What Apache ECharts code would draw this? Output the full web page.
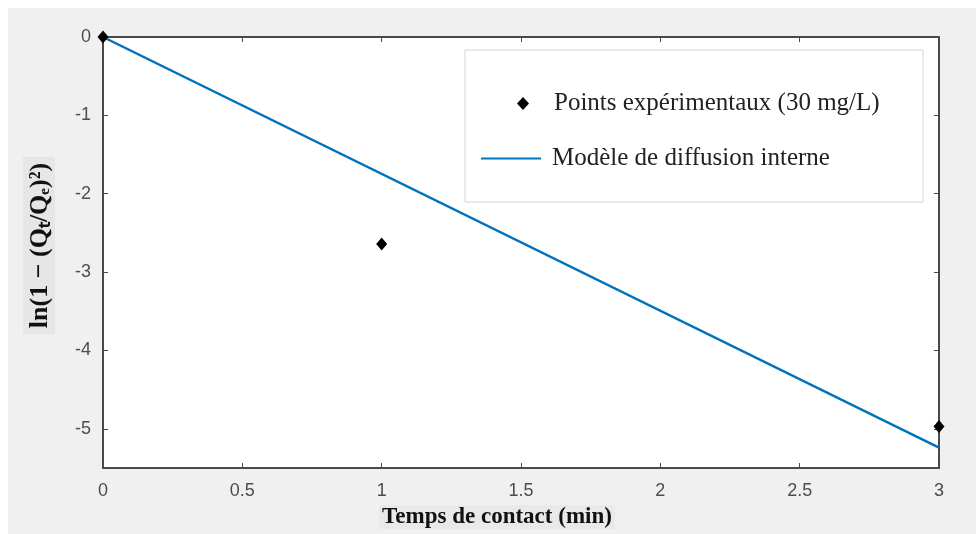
<!DOCTYPE html>
<html>
<head>
<meta charset="utf-8">
<script src="https://cdn.jsdelivr.net/npm/echarts@6/dist/echarts.min.js"></script>
<style>
  html, body { margin: 0; padding: 0; background: #fff; }
  #main { width: 976px; height: 534px; }
</style>
</head>
<body>
<div id="main"></div>
<script>
// données
var tempsExp = [0, 1, 3];
var lnExp = [0, -2.64, -4.97];
var tempsModele = [0, 3];
var lnModele = [0, -5.24];
var yTicks = [0, -1, -2, -3, -4, -5];
var nomPoints = 'Points expérimentaux (30 mg/L)';
var nomModele = 'Modèle de diffusion interne';

var ptsExp = tempsExp.map(function (t, i) { return [t, lnExp[i]]; });
var ptsModele = tempsModele.map(function (t, i) { return [t, lnModele[i]]; });

var axeCouleur = '#4a4a4a';
var labelCouleur = '#4d4d4d';

var myChart = echarts.init(document.getElementById('main'));
var option = {
  backgroundColor: '#fff',
  animation: false,
  graphic: [
    { type: 'rect', z: -10, shape: { x: 8, y: 8, width: 968, height: 526 }, style: { fill: '#f0f0f0' } },
    { type: 'rect', z: 5, shape: { x: 465, y: 50, width: 458, height: 152 }, style: { fill: '#fff', stroke: '#d4d4d4', lineWidth: 1 } }
  ],
  grid: { left: 103, right: 37, top: 37, bottom: 66, show: true, backgroundColor: '#fff', borderWidth: 0 },
  xAxis: [{
    type: 'value', min: 0, max: 3, interval: 0.5,
    name: '{t|Temps de contact (min)}', nameLocation: 'middle', nameGap: 36,
    nameTextStyle: { padding: [0, 48, 0, 0],
      rich: { t: { fontFamily: 'Liberation Serif', fontWeight: 'bold', fontSize: 23, color: '#111',
        backgroundColor: '#e9e9e9', padding: [1, 3, 0, 3] } } },
    axisLine: { onZero: false, lineStyle: { color: axeCouleur, width: 2 } },
    axisTick: { inside: true, length: 5, lineStyle: { color: axeCouleur } },
    axisLabel: { color: labelCouleur, fontSize: 18, fontFamily: 'Liberation Sans', margin: 14 },
    splitLine: { show: false }
  }, {
    type: 'value', position: 'top', min: 0, max: 3, interval: 0.5,
    axisLine: { onZero: false, lineStyle: { color: axeCouleur, width: 2 } },
    axisTick: { inside: true, length: 5, lineStyle: { color: axeCouleur } },
    axisLabel: { show: false }, splitLine: { show: false }
  }],
  yAxis: [{
    type: 'value', min: -5.5, max: 0,
    name: '{t|ln(1 − (Qₜ/Qₑ)²)}', nameLocation: 'middle', nameGap: 48,
    nameTextStyle: { padding: [0, 0, 0, 14],
      rich: { t: { fontFamily: 'Liberation Serif', fontWeight: 'bold', fontSize: 26, color: '#111',
        backgroundColor: '#e6e6e6', padding: [4, 6, 2, 6] } } },
    axisLine: { onZero: false, lineStyle: { color: axeCouleur, width: 2 } },
    axisTick: { inside: true, length: 5, customValues: yTicks, lineStyle: { color: axeCouleur } },
    axisLabel: { color: labelCouleur, fontSize: 18, fontFamily: 'Liberation Sans', margin: 12, customValues: yTicks },
    splitLine: { show: false }
  }, {
    type: 'value', position: 'right', min: -5.5, max: 0,
    axisLine: { onZero: false, lineStyle: { color: axeCouleur, width: 2 } },
    axisTick: { inside: true, length: 5, customValues: yTicks, lineStyle: { color: axeCouleur } },
    axisLabel: { show: false }, splitLine: { show: false }
  }],
  legend: [{
    data: [nomPoints], left: 512, top: 86, itemWidth: 12, itemHeight: 13, z: 10,
    itemStyle: { opacity: 1 },
    textStyle: { fontFamily: 'Liberation Serif', fontSize: 25, color: '#222', padding: [0, 0, 0, 20] }
  }, {
    data: [nomModele], left: 475, top: 141, itemWidth: 60, itemHeight: 11, z: 10,
    itemStyle: { opacity: 0 },
    textStyle: { fontFamily: 'Liberation Serif', fontSize: 25, color: '#222', padding: [0, 0, 0, 6] }
  }],
  series: [{
    name: nomModele, type: 'line', data: ptsModele, showSymbol: false, symbol: 'none',
    lineStyle: { color: '#0072BD', width: 2.5 }, itemStyle: { color: '#0072BD' }, z: 2
  }, {
    name: nomPoints, type: 'scatter', data: ptsExp, symbol: 'diamond', symbolSize: [11, 13],
    itemStyle: { color: '#000', opacity: 1 }, z: 3
  }]
};
myChart.setOption(option);
</script>
</body>
</html>
